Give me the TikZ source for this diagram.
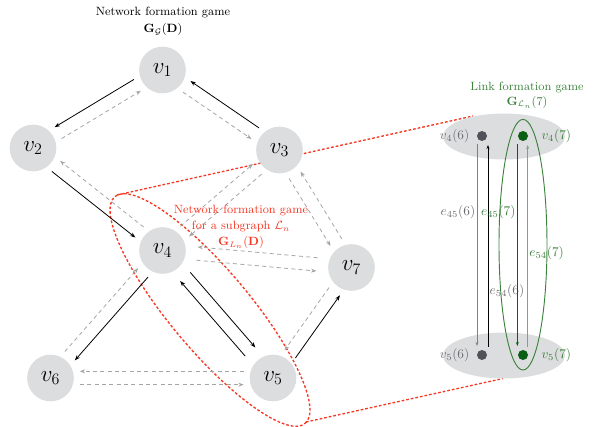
\documentclass[tikz,border=0pt]{standalone}
\usepackage{amsmath}
\usepackage{tikz}
\usetikzlibrary{arrows.meta, calc, positioning}
\usepackage{xcolor}

\definecolor{nodegray}{RGB}{220,221,223}
\definecolor{dashgray}{RGB}{165,165,165}
\definecolor{netred}{RGB}{245,55,35}
\definecolor{linkgreen}{RGB}{10,95,20}
\definecolor{midgreen}{RGB}{60,130,60}
\definecolor{palegreen}{RGB}{120,170,120}
\definecolor{dotgray}{RGB}{80,82,90}
\definecolor{labelgray}{RGB}{110,110,115}

\newcommand{\lane}[4]{\draw[#1] ($(#2)!5pt!#4:(#3)$) -- ($(#3)!5pt!-#4:(#2)$);}

\tikzset{
    vertex/.style={circle, fill=nodegray, minimum size=35pt, inner sep=0pt, font=\LARGE},
    firm/.style={-{Stealth[length=4pt,width=3pt]}, line width=0.6pt, shorten <=22pt, shorten >=22pt},
    hint/.style={firm, dashgray, dash pattern=on 3pt off 2.5pt},
    far/.style={shorten <=26pt, shorten >=26pt},
    zoomline/.style={netred, line width=1pt, dash pattern=on 2pt off 1.5pt},
    dot/.style={circle, minimum size=7.5pt, inner sep=0pt},
    linkarrow/.style={-{Stealth[length=3pt,width=2.2pt]}, line width=0.6pt, shorten <=6pt, shorten >=6.75pt},
    edgelab/.style={inner sep=1pt}
}

\begin{document}
\begin{tikzpicture}[x=0.75pt, y=0.75pt]
        \useasboundingbox (0,0) rectangle (601,426);

        % zoom from the subgraph to the link game
        \coordinate (ztop) at (117,231);
        \coordinate (zbot) at (306,4);
        \coordinate (gtop) at (473,310);
        \coordinate (gbot) at (503,47.5);
        \draw[zoomline, rotate around={-50:(210,116)}] (210,116) ellipse [x radius=148, y radius=40];
        \draw[zoomline] (ztop) -- (gtop);
        \draw[zoomline] (zbot) -- (gbot);

        % link formation game
        \fill[nodegray] (504,289.5) ellipse [x radius=61, y radius=23];
        \fill[nodegray] (504,70.5) ellipse [x radius=61, y radius=23];
        \draw[midgreen, line width=0.7pt] (523,181.3) ellipse [x radius=24, y radius=125.3];

        \node[dot, fill=dotgray] (d46) at (482,290) {};
        \node[dot, fill=linkgreen] (d47) at (523,290) {};
        \node[dot, fill=dotgray] (d56) at (482,71) {};
        \node[dot, fill=linkgreen] (d57) at (523,71) {};
        \node[left=2pt of d46, labelgray] {$v_4(6)$};
        \node[right=6.5pt of d47, midgreen] {$v_4(7)$};
        \node[left=2pt of d56, labelgray] {$v_5(6)$};
        \node[right=6.5pt of d57, midgreen] {$v_5(7)$};

        \draw[linkarrow, gray] ([xshift=-3.75pt]d46.center) -- node[left, edgelab, labelgray, pos=0.35] {$e_{45}(6)$} ([xshift=-3.75pt]d56.center);
        \draw[linkarrow, black] ([xshift=4.5pt]d56.center) -- node[right, edgelab, labelgray, pos=0.29] {$e_{54}(6)$} ([xshift=4.5pt]d46.center);
        \draw[linkarrow, linkgreen] ([xshift=-4.25pt]d47.center) -- node[left, edgelab, midgreen, pos=0.35] {$e_{45}(7)$} ([xshift=-4.25pt]d57.center);
        \draw[linkarrow, palegreen] ([xshift=3.5pt]d57.center) -- node[right, edgelab, midgreen, pos=0.465] {$e_{54}(7)$} ([xshift=3.5pt]d47.center);

        % network formation game
        \node[vertex] (v1) at (162.5,356) {$v_1$};
        \node[vertex] (v2) at (33,278) {$v_2$};
        \node[vertex] (v3) at (279.5,276) {$v_3$};
        \node[vertex] (v4) at (162.5,175.5) {$v_4$};
        \node[vertex] (v7) at (351.5,158.5) {$v_7$};
        \node[vertex] (v6) at (50.5,48) {$v_6$};
        \node[vertex] (v5) at (273,48) {$v_5$};

        \lane{firm}{v1}{v2}{270}
        \lane{hint}{v2}{v1}{270}
        \lane{firm}{v3}{v1}{270}
        \lane{hint}{v1}{v3}{270}
        \lane{firm}{v2}{v4}{270}
        \lane{hint}{v4}{v2}{270}
        \lane{hint}{v3}{v7}{270}
        \lane{hint}{v7}{v3}{270}
        \lane{hint, far}{v7}{v4}{270}
        \lane{hint, far}{v4}{v7}{270}
        \lane{firm}{v5}{v7}{270}
        \lane{hint}{v7}{v5}{270}
        \lane{hint}{v5}{v6}{270}
        \lane{hint}{v6}{v5}{270}
        \lane{hint}{v4}{v3}{90}
        \lane{hint}{v3}{v4}{90}
        \lane{firm}{v4}{v6}{90}
        \lane{hint}{v6}{v4}{90}
        \lane{firm, far}{v4}{v5}{90}
        \lane{firm, far}{v5}{v4}{90}

        % titles
        \node[font=\small] (nettitle) at (163,413) {Network formation game};
        \node[font=\small] (netgame) at (163,396) {$\mathbf{G}_{\mathcal{G}}(\mathbf{D})$};
        \node[font=\small, netred, align=center] (subtitle) at (241,199) {Network formation game\\[1pt] for a subgraph $\mathcal{L}_n$\\[1pt] $\mathbf{G}_{L_n}(\mathbf{D})$};
        \node[font=\small, midgreen, align=center] (linktitle) at (527,330.5) {Link formation game\\ $\mathbf{G}_{\mathcal{L}_n}(7)$};
\end{tikzpicture}
\end{document}
